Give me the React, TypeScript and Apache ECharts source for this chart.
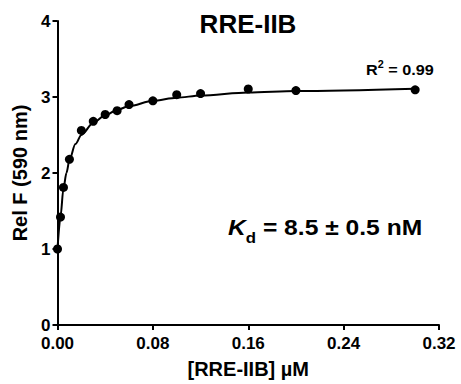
import React, { useEffect, useRef } from "react";
import * as echarts from "echarts";

// Measured data points: concentration [RRE-IIB] (µM) vs relative fluorescence
const concX = [0, 0.0025, 0.005, 0.01, 0.02, 0.03, 0.04, 0.05, 0.06, 0.08, 0.1, 0.12, 0.16, 0.2, 0.3];
const relF = [1.0, 1.42, 1.81, 2.18, 2.56, 2.68, 2.77, 2.82, 2.9, 2.95, 3.03, 3.045, 3.105, 3.085, 3.095];

// Fit curve
const fitX = [0, 0.0025, 0.005, 0.0075, 0.01, 0.015, 0.02, 0.03, 0.04, 0.05, 0.06, 0.08, 0.1, 0.12, 0.16, 0.2, 0.3];
const fitY = [1.0, 1.42, 1.8, 2.0, 2.17, 2.38, 2.5, 2.66, 2.76, 2.83, 2.88, 2.95, 2.99, 3.02, 3.06, 3.08, 3.11];

const xTicks = [0, 0.08, 0.16, 0.24, 0.32];
const yTicks = [0, 1, 2, 3, 4];

const FONT = "'Liberation Sans', Arial, sans-serif";

export default function App() {
  const ref = useRef<HTMLDivElement>(null);
  useEffect(() => {
    if (!ref.current) return;
    const chart = echarts.init(ref.current, undefined, { renderer: "svg" });
    const axisCommon = {
      axisLine: { show: true, onZero: false, lineStyle: { color: "#000", width: 2 } },
      axisTick: { show: true, inside: false, length: 5, lineStyle: { color: "#000", width: 2 } },
      splitLine: { show: false },
      nameLocation: "middle" as const,
      nameTextStyle: { fontSize: 20, fontWeight: "bold" as const, color: "#000", fontFamily: FONT },
    };
    chart.setOption({
      animation: false,
      textStyle: { fontFamily: FONT },
      grid: { left: 57.5, right: 22, top: 21, bottom: 57.3, containLabel: false },
      xAxis: {
        type: "value",
        ...axisCommon,
        min: xTicks[0],
        max: xTicks[xTicks.length - 1],
        interval: 0.08,
        name: "[RRE-IIB] µM",
        nameGap: 34,
        axisLabel: {
          fontSize: 17,
          fontWeight: "bold",
          color: "#000",
          fontFamily: FONT,
          margin: 11,
          lineHeight: 14,
          formatter: (v: number) => v.toFixed(2),
        },
      },
      yAxis: {
        type: "value",
        ...axisCommon,
        min: yTicks[0],
        max: yTicks[yTicks.length - 1],
        interval: 1,
        name: "Rel F (590 nm)",
        nameGap: 25,
        axisLabel: {
          fontSize: 17,
          fontWeight: "bold",
          color: "#000",
          fontFamily: FONT,
          margin: 7,
          lineHeight: 12,
        },
      },
      series: [
        {
          type: "line",
          data: fitX.map((x, i) => [x, fitY[i]]),
          showSymbol: false,
          smooth: 0.3,
          smoothMonotone: "x",
          clip: false,
          lineStyle: { color: "#000", width: 2 },
          z: 2,
        },
        {
          type: "scatter",
          data: concX.map((x, i) => [x, relF[i]]),
          symbol: "circle",
          symbolSize: 9,
          clip: false,
          itemStyle: { color: "#000", opacity: 1 },
          z: 3,
        },
      ],
      graphic: [
        {
          type: "text",
          x: 248,
          y: 24,
          style: {
            text: "RRE-IIB",
            fontSize: 26,
            fontWeight: "bold",
            fontFamily: FONT,
            fill: "#000",
            textAlign: "center",
            textVerticalAlign: "middle",
          },
        },
        {
          type: "text",
          x: 366,
          y: 60,
          scaleX: 1.08,
          style: {
            text: "{m|R}{s|2}{m| = 0.99}",
            fill: "#000",
            textAlign: "left",
            textVerticalAlign: "top",
            rich: {
              m: { fontSize: 15, fontWeight: "bold", fontFamily: FONT, lineHeight: 20, fill: "#000" },
              s: { fontSize: 10, fontWeight: "bold", fontFamily: FONT, lineHeight: 10, verticalAlign: "top", fill: "#000" },
            },
          },
        },
        {
          type: "text",
          x: 228,
          y: 210,
          scaleX: 1.12,
          style: {
            text: "{k|K}{d|d}{t| = 8.5 ± 0.5 nM}",
            fill: "#000",
            textAlign: "left",
            textVerticalAlign: "top",
            rich: {
              k: { fontSize: 22, fontWeight: "bold", fontStyle: "italic", fontFamily: FONT, lineHeight: 35, fill: "#000" },
              d: { fontSize: 15, fontWeight: "bold", fontFamily: FONT, lineHeight: 14, verticalAlign: "bottom", fill: "#000" },
              t: { fontSize: 22, fontWeight: "bold", fontFamily: FONT, lineHeight: 35, fill: "#000" },
            },
          },
        },
      ],
    });
    return () => chart.dispose();
  }, []);
  return (
    <div
      ref={ref}
      style={{ position: "fixed", left: 0, top: 0, width: 461, height: 384, background: "#fff" }}
    />
  );
}
